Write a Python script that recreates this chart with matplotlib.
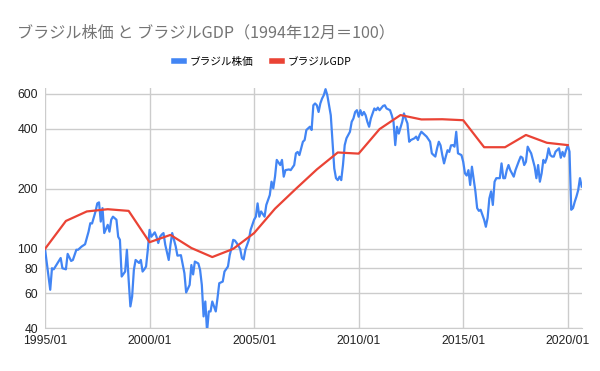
import numpy as np
import matplotlib
matplotlib.use("Agg")
import matplotlib.pyplot as plt
from matplotlib.ticker import FixedLocator, NullLocator, NullFormatter

# ブラジル株価 (1994/12 = 100), months counted from 1995/01
stock_month = [0, 3, 4, 5, 9, 10, 12, 13, 15, 16, 18, 19, 21, 23, 25, 26, 27, 29, 30, 31,
               32, 33, 34, 36, 37, 38, 39, 41, 42, 43, 44, 46, 47, 48, 49, 50, 51, 52, 54, 55,
               56, 57, 58, 59, 60, 61, 63, 64, 65, 66, 67, 68, 69, 71, 72, 73, 75, 76, 78, 79,
               80, 81, 83, 84, 85, 86, 88, 89, 90, 91, 92, 93, 94, 95, 96, 98, 99, 100, 102, 103,
               105, 106, 107, 108, 109, 110, 112, 113, 114, 115, 117, 118, 120, 121, 122, 123, 124, 126, 127, 129,
               130, 131, 132, 133, 135, 136, 137, 138, 140, 141, 143, 144, 145, 146, 148, 149, 150, 152, 153, 154,
               155, 156, 157, 158, 159, 160, 161, 162, 163, 164, 165, 166, 167, 168, 169, 170, 171, 172, 173, 174,
               175, 176, 177, 178, 179, 180, 181, 182, 183, 184, 185, 186, 187, 188, 189, 190, 191, 192, 194, 195,
               196, 198, 199, 200, 201, 202, 203, 205, 206, 207, 208, 209, 210, 212, 213, 214, 215, 216, 218, 219,
               221, 222, 223, 224, 225, 226, 227, 228, 229, 230, 231, 232, 233, 234, 235, 236, 237, 239, 240, 241,
               242, 243, 244, 245, 246, 247, 248, 249, 250, 251, 252, 253, 254, 255, 256, 257, 258, 259, 261, 262,
               263, 264, 265, 266, 267, 268, 269, 270, 272, 273, 274, 275, 276, 277, 278, 279, 281, 282, 283, 284,
               285, 286, 287, 288, 289, 290, 291, 292, 293, 295, 296, 297, 298, 299, 300, 301, 302, 303, 304, 305,
               306, 307, 308]
stock_value = [100, 62.4, 80, 79, 90, 80, 79, 94.4, 87, 88, 99, 99, 102.7, 105.5, 122, 134.5, 134, 154, 169, 171,
               137, 160, 120, 132, 122, 140, 145, 140, 115, 111, 72.7, 77, 99, 70, 51.5, 57.7, 78.5, 88, 85, 88,
               77, 79, 81.6, 99, 124.5, 115, 121, 115, 107, 115, 118, 120, 105, 88, 105, 120, 103, 92.5, 93, 84,
               75.6, 60.5, 66, 83, 74.5, 86.4, 84.5, 78.5, 66, 45.9, 54.5, 38.6, 48.6, 48.6, 54.5, 48.6, 56.7, 67.3, 68.6, 77,
               81.6, 93, 100.8, 111, 110, 107, 100, 90, 88.5, 99, 111, 124.5, 140, 145, 169, 145, 154, 145, 166, 186,
               217, 201, 230, 279, 263, 279, 230, 248, 250, 248, 263, 301, 306, 295, 344, 351, 394, 409, 394, 524,
               535, 524, 485, 535, 566, 589, 631, 589, 524, 467, 344, 253, 226, 221, 230, 221, 263, 331, 358, 372,
               386, 433, 450, 485, 495, 459, 495, 467, 485, 467, 433, 409, 450, 477, 505, 495, 510, 495, 520, 524,
               505, 495, 467, 433, 331, 409, 378, 433, 477, 448, 425, 344, 351, 358, 365, 351, 372, 386, 372, 365,
               344, 301, 295, 290, 319, 344, 330, 295, 268, 290, 312, 306, 330, 331, 325, 386, 301, 295, 273, 239,
               233, 248, 209, 258, 224, 194, 160, 155, 157, 148, 140, 129, 143, 179, 194, 166, 217, 226, 226, 268,
               226, 226, 248, 263, 248, 239, 230, 248, 276, 290, 286, 263, 273, 325, 312, 301, 258, 226, 263, 217,
               239, 279, 270, 286, 319, 295, 290, 290, 307, 319, 286, 306, 290, 312, 331, 307, 157, 160, 172, 183,
               197, 226, 205]

# ブラジルGDP (1994 = 100), plotted each January
gdp_year = list(range(1995, 2021))
gdp_value = [100, 138, 154, 158, 155, 108, 117.5, 101, 91, 100, 120, 159, 200, 250, 304, 300,
             398, 468, 445, 446, 441, 323, 323, 372, 340, 331]

year_ticks = [1995, 2000, 2005, 2010, 2015, 2020]
y_ticks = [40, 60, 80, 100, 200, 400, 600]

cjk = ['Noto Sans CJK JP', 'DejaVu Sans']

fig = plt.figure(figsize=(6, 3.71), dpi=100)
ax = fig.add_axes([0.075, 0.115, 0.8945, 0.648])

stock_x = 1995 + np.array(stock_month) / 12.0
ax.plot(stock_x, stock_value, color='#4285F4', lw=1.6, label='ブラジル株価', zorder=3)
ax.plot(gdp_year, gdp_value, color='#EA4335', lw=1.6, label='ブラジルGDP', zorder=4)

ax.set_yscale('log')
ax.set_ylim(40, 640)
ax.set_xlim(1995, 1995 + 308 / 12.0)
ax.yaxis.set_major_locator(FixedLocator(y_ticks))
ax.yaxis.set_minor_locator(NullLocator())
ax.yaxis.set_minor_formatter(NullFormatter())
ax.set_yticklabels([str(v) for v in y_ticks])
ax.set_xticks(year_ticks)
ax.set_xticklabels([f"{y}/01" for y in year_ticks])

ax.grid(True, color='#cccccc', lw=1)
ax.set_axisbelow(True)
for s in ['top', 'right', 'left']:
    ax.spines[s].set_visible(False)
ax.spines['bottom'].set_color('#cccccc')
ax.tick_params(length=0, pad=5, labelsize=8.7, colors='#222222')
for lab in ax.get_xticklabels() + ax.get_yticklabels():
    lab.set_family('Liberation Sans')

fig.text(0.028, 0.91, 'ブラジル株価 と ブラジルGDP（1994年12月＝100）', family=cjk,
         fontsize=11.6, color='#757575', va='center', ha='left')

leg = fig.legend(loc='center', bbox_to_anchor=(0.438, 0.833), ncol=2, frameon=False,
                 prop={'family': cjk, 'size': 7.7}, handlelength=0.9, handletextpad=0.5,
                 columnspacing=1.8)
for h in leg.get_lines():
    h.set_linewidth(4)

fig.savefig('out.png', dpi=100)
